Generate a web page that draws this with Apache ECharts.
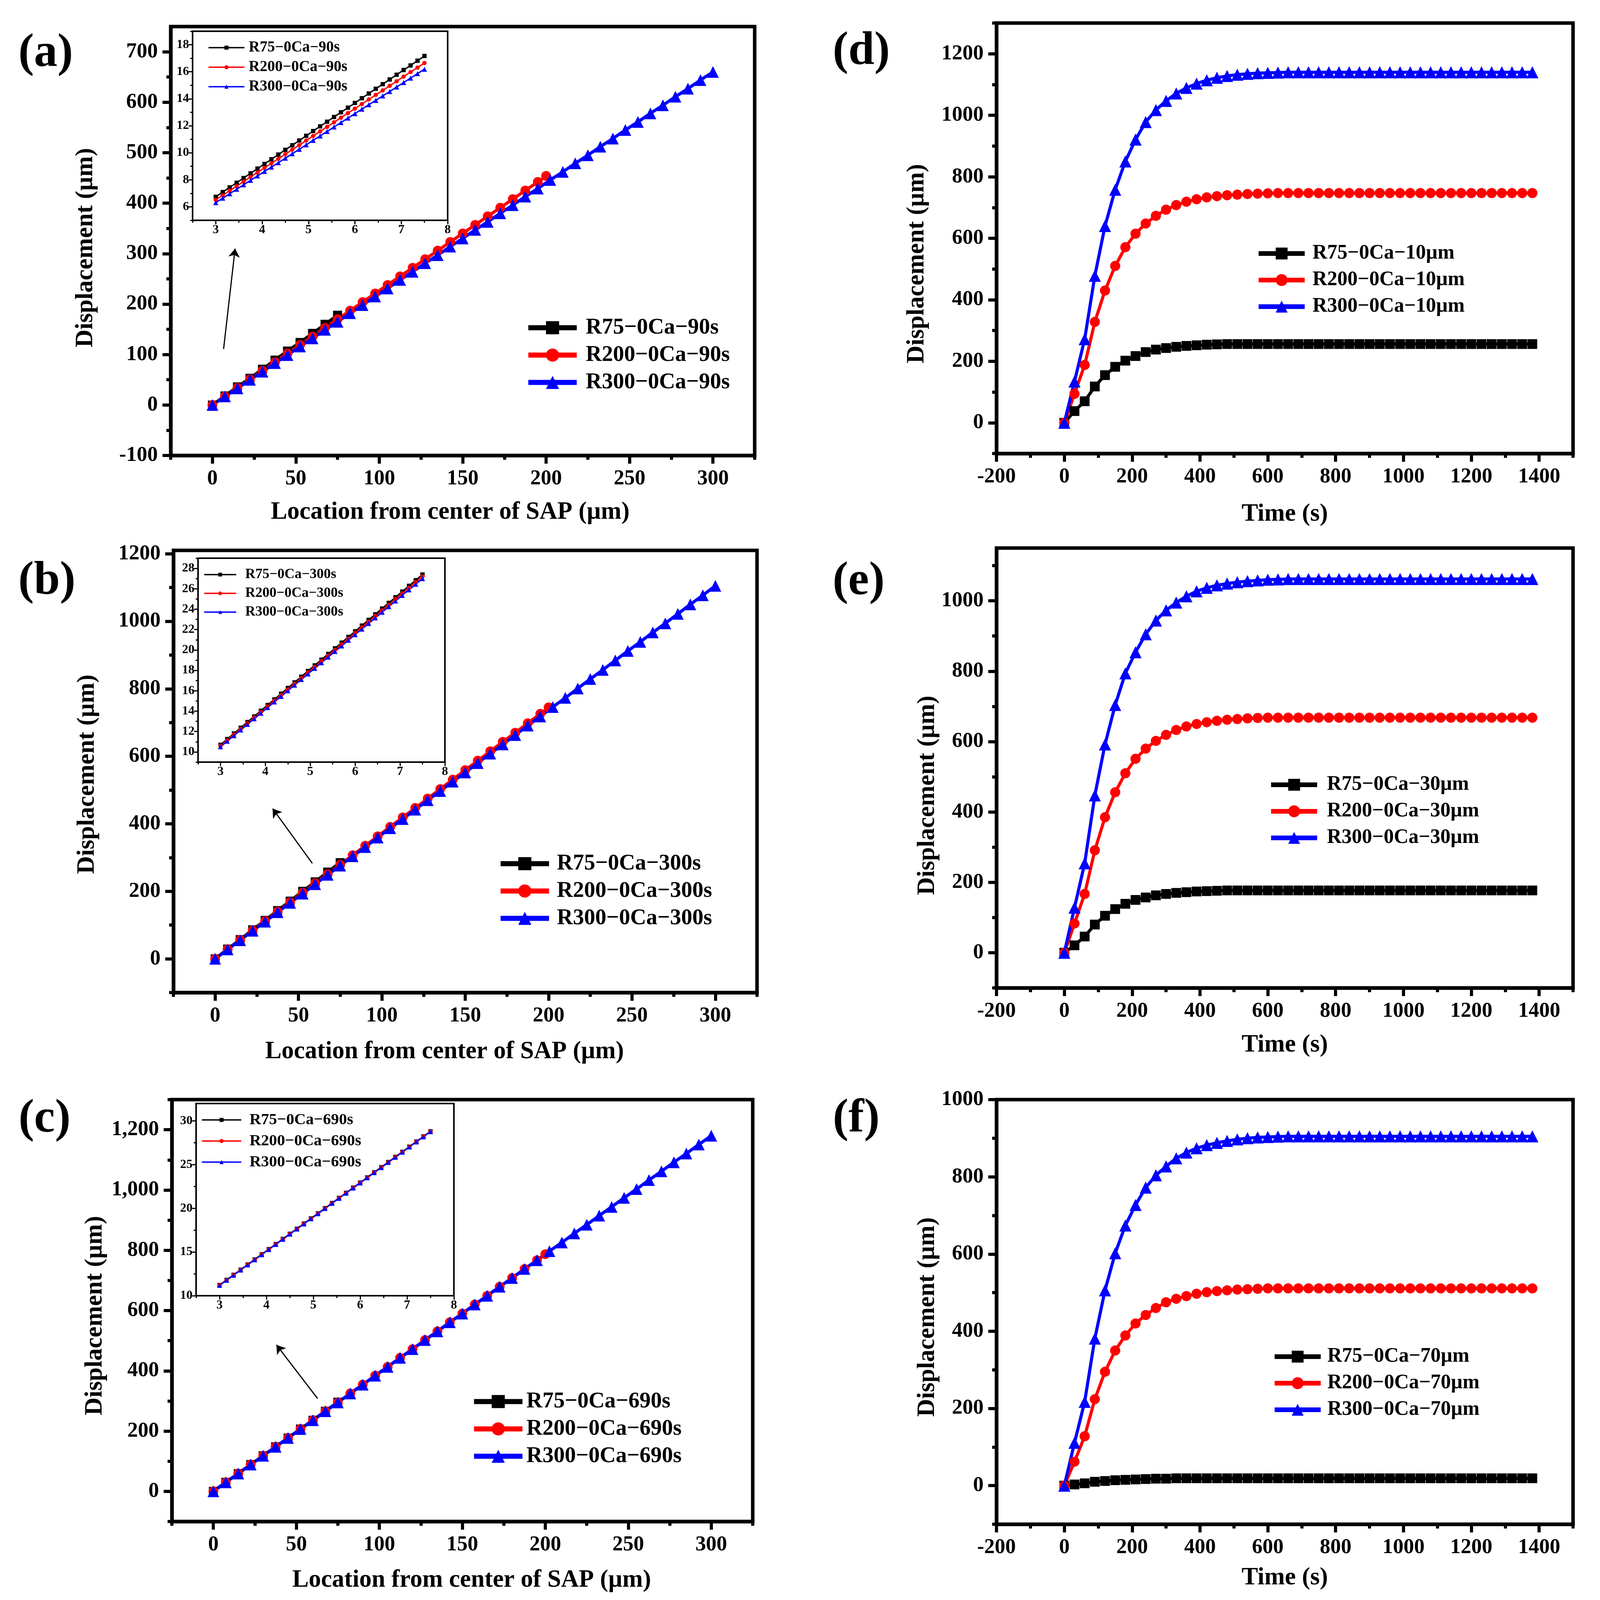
<!DOCTYPE html>
<html><head><meta charset="utf-8">
<script src="https://cdn.jsdelivr.net/npm/echarts@6/dist/echarts.min.js"></script>
<style>html,body{margin:0;padding:0;background:#fff}#c{width:4104px;height:4141px}</style>
</head><body><div id="c"></div>
<script>
// ---------------- DATA ----------------
const locR75 = [0,7.5,15,22.5,30,37.5,45,52.5,60,67.5,75];
const locR200 = [0,7.5,15,22.5,30,37.5,45,52.5,60,67.5,75,82.5,90,97.5,105,112.5,120,127.5,135,142.5,150,157.5,165,172.5,180,187.5,195,200];
const locR300 = [0,7.5,15,22.5,30,37.5,45,52.5,60,67.5,75,82.5,90,97.5,105,112.5,120,127.5,135,142.5,150,157.5,165,172.5,180,187.5,195,202.5,210,217.5,225,232.5,240,247.5,255,262.5,270,277.5,285,292.5,300];
const insetLoc = [3,3.15,3.3,3.45,3.6,3.75,3.9,4.05,4.2,4.35,4.5,4.65,4.8,4.95,5.1,5.25,5.4,5.55,5.7,5.85,6,6.15,6.3,6.45,6.6,6.75,6.9,7.05,7.2,7.35,7.5];
const timeS = [0,30,60,90,120,150,180,210,240,270,300,330,360,390,420,450,480,510,540,570,600,630,660,690,720,750,780,810,840,870,900,930,960,990,1020,1050,1080,1110,1140,1170,1200,1230,1260,1290,1320,1350,1380];

// (a) 90 s
const a_R75 = [0,18,36,53,71,89,107,124,142,160,178];
const a_R200 = [0,17,34,51,68,85,102,119,136,153,170,187,204,221,238,255,272,289,306,323,340,357,374,391,408,425,442,454];
const a_R300 = [0,17,33,50,66,83,99,116,132,149,165,182,198,215,231,248,264,281,297,314,330,347,363,380,396,413,429,446,462,479,495,512,528,545,561,578,594,611,627,644,660];
const ia_R75 = [6.74,7.09,7.44,7.78,8.13,8.48,8.83,9.17,9.52,9.87,10.22,10.56,10.91,11.26,11.61,11.96,12.30,12.65,13.00,13.34,13.69,14.04,14.39,14.74,15.08,15.43,15.78,16.13,16.47,16.82,17.17];
const ia_R200 = [6.52,6.86,7.20,7.53,7.87,8.21,8.55,8.88,9.22,9.56,9.90,10.23,10.57,10.91,11.25,11.59,11.92,12.26,12.60,12.94,13.27,13.61,13.95,14.29,14.62,14.96,15.30,15.64,15.98,16.31,16.65];
const ia_R300 = [6.31,6.64,6.97,7.30,7.63,7.96,8.29,8.62,8.94,9.27,9.60,9.93,10.26,10.59,10.92,11.25,11.58,11.91,12.24,12.57,12.90,13.23,13.56,13.88,14.21,14.54,14.87,15.20,15.53,15.86,16.19];

// (b) 300 s
const b_R75 = [0,29,57,86,114,143,171,200,228,257,285];
const b_R200 = [0,28,56,84,112,140,168,196,224,251,279,307,335,363,391,419,447,475,503,531,559,587,615,643,670,698,726,745];
const b_R300 = [0,28,55,83,110,138,166,193,221,249,276,304,331,359,387,414,442,470,497,525,552,580,608,635,663,691,718,746,773,801,829,856,884,912,939,967,994,1022,1050,1077,1105];
const ib_R75 = [10.70,11.26,11.81,12.37,12.93,13.48,14.04,14.60,15.15,15.71,16.27,16.82,17.38,17.94,18.49,19.05,19.61,20.16,20.72,21.28,21.83,22.39,22.95,23.50,24.06,24.62,25.17,25.73,26.29,26.84,27.40];
const ib_R200 = [10.60,11.15,11.71,12.26,12.81,13.37,13.92,14.47,15.03,15.58,16.13,16.69,17.24,17.79,18.35,18.90,19.45,20.01,20.56,21.11,21.67,22.22,22.77,23.33,23.88,24.43,24.99,25.54,26.09,26.65,27.20];
const ib_R300 = [10.50,11.05,11.60,12.15,12.70,13.25,13.80,14.35,14.90,15.45,16.00,16.55,17.10,17.65,18.20,18.75,19.30,19.85,20.40,20.95,21.50,22.05,22.60,23.15,23.70,24.25,24.80,25.35,25.90,26.45,27.00];

// (c) 690 s
const c_R75 = [0,30,59,89,118,148,177,207,236,266,296];
const c_R200 = [0,30,59,89,118,148,177,207,236,266,295,325,354,384,413,443,472,502,531,561,590,620,649,679,708,738,767,787];
const c_R300 = [0,30,59,89,118,148,177,207,236,266,295,325,354,384,413,443,472,502,531,561,590,620,649,679,708,738,767,797,826,856,885,915,944,974,1003,1033,1062,1092,1121,1151,1180];
const ic_R75 = [11.22,11.81,12.39,12.98,13.57,14.15,14.74,15.33,15.91,16.50,17.09,17.67,18.26,18.85,19.43,20.02,20.61,21.19,21.78,22.37,22.95,23.54,24.13,24.71,25.30,25.89,26.47,27.06,27.65,28.23,28.82];
const ic_R200 = [11.20,11.79,12.37,12.96,13.55,14.13,14.72,15.31,15.89,16.48,17.07,17.65,18.24,18.83,19.41,20.00,20.59,21.17,21.76,22.35,22.93,23.52,24.11,24.69,25.28,25.87,26.45,27.04,27.63,28.21,28.80];
const ic_R300 = [11.18,11.77,12.35,12.94,13.53,14.11,14.70,15.29,15.87,16.46,17.05,17.63,18.22,18.81,19.39,19.98,20.57,21.15,21.74,22.33,22.91,23.50,24.09,24.67,25.26,25.85,26.43,27.02,27.61,28.19,28.78];

// (d) 10 um
const d_R75 = [0,38,70,118,155,182,202,217,230,238,
  243,247,250,252,254,255,256,256,256,256,
  256,256,256,256,256,256,256,256,256,256,
  256,256,256,256,256,256,256,256,256,256,
  256,256,256,256,256,256,256];
const d_R200 = [0,94,188,328,430,510,571,615,648,673,
  693,708,719,727,733,737,740,742,744,745,
  746,747,747,747,747,747,747,747,747,747,
  747,747,747,747,747,747,747,747,747,747,
  747,747,747,747,747,747,747];
const d_R300 = [0,134,272,478,640,758,850,921,978,1017,
  1047,1071,1089,1103,1114,1122,1128,1132,1135,1137,
  1138,1139,1140,1140,1140,1140,1140,1140,1140,1140,
  1140,1140,1140,1140,1140,1140,1140,1140,1140,1140,
  1140,1140,1140,1140,1140,1140,1140];
// (e) 30 um
const e_R75 = [0,21,46,80,105,124,139,150,157,163,
  167,170,172,174,175,176,177,177,177,177,
  177,177,177,177,177,177,177,177,177,177,
  177,177,177,177,177,177,177,177,177,177,
  177,177,177,177,177,177,177];
const e_R200 = [0,83,167,291,385,456,510,551,580,602,
  619,633,643,650,655,659,662,664,666,667,
  668,668,668,668,668,668,668,668,668,668,
  668,668,668,668,668,668,668,668,668,668,
  668,668,668,668,668,668,668];
const e_R300 = [0,128,254,447,592,704,794,854,905,944,
  973,995,1013,1027,1037,1044,1049,1053,1056,1058,
  1060,1061,1062,1062,1062,1062,1062,1062,1062,1062,
  1062,1062,1062,1062,1062,1062,1062,1062,1062,1062,
  1062,1062,1062,1062,1062,1062,1062];
// (f) 70 um
const f_R75 = [0,3,6,10,12,14,15,16,17,18,
  18,19,19,19,19,19,19,19,19,19,
  19,19,19,19,19,19,19,19,19,19,
  19,19,19,19,19,19,19,19,19,19,
  19,19,19,19,19,19,19];
const f_R200 = [0,62,128,224,295,350,389,420,442,460,
  475,484,491,497,501,504,506,508,509,510,
  511,511,511,511,511,511,511,511,511,511,
  511,511,511,511,511,511,511,511,511,511,
  511,511,511,511,511,511,511];
const f_R300 = [0,111,217,381,506,602,674,727,772,804,
  827,848,863,874,882,888,893,897,900,902,
  903,904,905,905,905,905,905,905,905,905,
  905,905,905,905,905,905,905,905,905,905,
  905,905,905,905,905,905,905];

// tick values
const locMajor = [0,50,100,150,200,250,300];
const locMinor = [-25,25,75,125,175,225,275,325];
const timeMajor = [-200,0,200,400,600,800,1000,1200,1400];
const timeMinor = [-100,100,300,500,700,900,1100,1300,1500];
const insetXMajor = [3,4,5,6,7,8];
const insetXMinor = [2.5,3.5,4.5,5.5,6.5,7.5];

// ---------------- BUILD ----------------
const S = 0.988;                       // layout scale
const P = v => Math.round(v * S);
const FONT = '"Liberation Serif", "Times New Roman", serif';
const BLACK = '#000000', RED = '#ff0000', BLUE = '#0000ff';
const grid = [], xAxis = [], yAxis = [], series = [], legend = [], graphic = [];
const plain = v => String(v);
const comma = v => String(v).replace(/\B(?=(\d{3})+(?!\d))/g, ',');
const zip = (xs, ys) => xs.map((x, i) => [x, ys[i]]);

function addCoord(box, s) {
  const gi = grid.length;
  const b = box.map(P);
  grid.push({left: b[0], top: b[1], width: b[2] - b[0], height: b[3] - b[1],
    show: true, borderColor: '#000', borderWidth: s.frame, backgroundColor: 'transparent', containLabel: false});
  const xi = xAxis.length, yi = yAxis.length;
  const nameStyle = (pad) => ({fontSize: s.nameSize || 63, fontFamily: FONT, fontWeight: 'bold', color: '#000', padding: pad || 0});
  const labStyle = {show: true, margin: s.margin, fontSize: s.lab, fontFamily: FONT, fontWeight: 'bold', color: '#000'};
  xAxis.push({type: 'value', gridIndex: gi, position: 'bottom', min: s.x.min, max: s.x.max,
    splitLine: {show: false},
    axisLine: {show: true, onZero: false, lineStyle: {color: '#000', width: s.frame}},
    axisTick: {show: true, customValues: s.x.major, length: s.tickMaj, lineStyle: {color: '#000', width: s.tickW}},
    axisLabel: Object.assign({customValues: s.x.major, formatter: s.x.fmt || plain}, labStyle),
    name: s.x.name || '', nameLocation: 'middle', nameGap: P(s.x.gap || 0), nameTextStyle: nameStyle(s.x.pad)});
  xAxis.push({type: 'value', gridIndex: gi, position: 'bottom', min: s.x.min, max: s.x.max,
    splitLine: {show: false}, axisLine: {show: false, onZero: false},
    axisTick: {show: true, customValues: s.x.minor, length: s.tickMin, lineStyle: {color: '#000', width: s.tickW}},
    axisLabel: {show: false}});
  yAxis.push({type: 'value', gridIndex: gi, position: 'left', min: s.y.min, max: s.y.max,
    splitLine: {show: false},
    axisLine: {show: true, onZero: false, lineStyle: {color: '#000', width: s.frame}},
    axisTick: {show: true, customValues: s.y.major, length: s.tickMaj, lineStyle: {color: '#000', width: s.tickW}},
    axisLabel: Object.assign({customValues: s.y.major, formatter: s.y.fmt || plain}, labStyle),
    name: s.y.name || '', nameLocation: 'middle', nameGap: P(s.y.gap || 0), nameTextStyle: nameStyle(s.y.pad)});
  yAxis.push({type: 'value', gridIndex: gi, position: 'left', min: s.y.min, max: s.y.max,
    splitLine: {show: false}, axisLine: {show: false, onZero: false},
    axisTick: {show: true, customValues: s.y.minor, length: s.tickMin, lineStyle: {color: '#000', width: s.tickW}},
    axisLabel: {show: false}});
  return {xi, yi};
}

function addLine(ax, name, xs, ys, color, symbol, size, lw, extra) {
  series.push(Object.assign({type: 'line', name, xAxisIndex: ax.xi, yAxisIndex: ax.yi,
    data: zip(xs, ys), symbol, symbolSize: size, showSymbol: true, showAllSymbol: true,
    lineStyle: {color, width: lw}, itemStyle: {color, borderWidth: 0},
    emphasis: {disabled: true}, animation: false, z: 3}, extra || {}));
}

function addLegend(names, o) {
  legend.push({data: names, orient: 'vertical', left: P(o.left), top: P(o.top), padding: 0,
    itemWidth: o.w, itemHeight: o.h, itemGap: o.gap, selectedMode: false,
    lineStyle: {width: o.lw},
    textStyle: {fontFamily: FONT, fontWeight: 'bold', fontSize: o.fs, lineHeight: o.lh, color: '#000', padding: [0, 0, 0, o.pad]}});
}

function arrow(p0, p1) {
  return {markLine: {silent: true, symbol: ['none', 'arrow'], symbolSize: 22, animation: false,
    lineStyle: {color: '#000', width: 3, type: 'solid'}, label: {show: false}, emphasis: {disabled: true},
    data: [[{coord: p0}, {coord: p1}]]}};
}

const mainStyle = {frame: 9, tickMaj: 21, tickMin: 11, tickW: 8, lab: 54, margin: 33, nameSize: 63};
const insetStyle = {frame: 4, tickMaj: 10, tickMin: 6, tickW: 3, lab: 32, margin: 9};
const locName = 'Location from center of SAP (µm)';
const dispName = 'Displacement (µm)';
const mainLeg = {w: 124, h: 42, gap: 12, lw: 13, fs: 57, lh: 58};
const timeLeg = {w: 118, h: 38, gap: 14, lw: 12, fs: 52, lh: 54};

// ---------- panel (a)
{
  const ax = addCoord([442, 69, 1955, 1180], Object.assign({}, mainStyle, {
    x: {min: -25, max: 325, major: locMajor, minor: locMinor, name: locName, gap: 115, pad: [0, 64, 0, 0]},
    y: {min: -100, max: 750, major: [-100,0,100,200,300,400,500,600,700], minor: [-50,50,150,250,350,450,550,650], name: dispName, gap: 188, pad: [0, 34, 0, 0]}}));
  const n = ['R75−0Ca−90s', 'R200−0Ca−90s', 'R300−0Ca−90s'];
  addLine(ax, n[0], locR75, a_R75, BLACK, 'rect', 23, 8);
  addLine(ax, n[1], locR200, a_R200, RED, 'circle', 25, 8);
  addLine(ax, n[2], locR300, a_R300, BLUE, 'triangle', 30, 8, arrow([6.7, 111], [13.6, 310]));
  addLegend(n, Object.assign({}, mainLeg, {left: 1362, top: 820, pad: 18}));
  const ins = addCoord([499, 81, 1160, 571], Object.assign({}, insetStyle, {
    x: {min: 2.5, max: 8, major: insetXMajor, minor: insetXMinor},
    y: {min: 5, max: 19, major: [6,8,10,12,14,16,18], minor: [5,7,9,11,13,15,17,19]}}));
  addLine(ins, n[0], insetLoc, ia_R75, BLACK, 'rect', 11, 3.5);
  addLine(ins, n[1], insetLoc, ia_R200, RED, 'circle', 11, 3.5);
  addLine(ins, n[2], insetLoc, ia_R300, BLUE, 'triangle', 13, 3.5);
  addLegend(n, {left: 538, top: 103, w: 92, h: 13, gap: 10, lw: 3.5, fs: 39, lh: 40, pad: 6});
}
// ---------- panel (b)
{
  const ax = addCoord([449, 1426, 1962, 2572], Object.assign({}, mainStyle, {
    x: {min: -25, max: 325, major: locMajor, minor: locMinor, name: locName, gap: 121, pad: [0, 106, 0, 0]},
    y: {min: -100, max: 1210, major: [0,200,400,600,800,1000,1200], minor: [-100,100,300,500,700,900,1100], name: dispName, gap: 191, pad: [0, 14, 0, 0]}}));
  const n = ['R75−0Ca−300s', 'R200−0Ca−300s', 'R300−0Ca−300s'];
  addLine(ax, n[0], locR75, b_R75, BLACK, 'rect', 23, 8);
  addLine(ax, n[1], locR200, b_R200, RED, 'circle', 25, 8);
  addLine(ax, n[2], locR300, b_R300, BLUE, 'triangle', 30, 8, arrow([58.3, 283], [34.5, 445]));
  addLegend(n, Object.assign({}, mainLeg, {left: 1290, top: 2209, pad: 15}));
  const ins = addCoord([513, 1446, 1153, 1975], Object.assign({}, insetStyle, {
    x: {min: 2.5, max: 8, major: insetXMajor, minor: insetXMinor},
    y: {min: 9, max: 29, major: [10,12,14,16,18,20,22,24,26,28], minor: [9,11,13,15,17,19,21,23,25,27,29]}}));
  addLine(ins, n[0], insetLoc, ib_R75, BLACK, 'rect', 11, 3.5);
  addLine(ins, n[1], insetLoc, ib_R200, RED, 'circle', 11, 3.5);
  addLine(ins, n[2], insetLoc, ib_R300, BLUE, 'triangle', 13, 3.5);
  addLegend(n, {left: 527, top: 1470, w: 82, h: 12, gap: 10, lw: 3.5, fs: 36, lh: 38, pad: 18});
}
// ---------- panel (c)
{
  const ax = addCoord([445, 2849, 1950, 3942], Object.assign({}, mainStyle, {
    x: {min: -25, max: 325, major: locMajor, minor: locMinor, name: locName, gap: 120, pad: [0, 0, 0, 48]},
    y: {min: -100, max: 1300, major: [0,200,400,600,800,1000,1200], minor: [-100,100,300,500,700,900,1100,1300], name: dispName, gap: 167, fmt: comma, pad: [0, 26, 0, 0]}}));
  const n = ['R75−0Ca−690s', 'R200−0Ca−690s', 'R300−0Ca−690s'];
  addLine(ax, n[0], locR75, c_R75, BLACK, 'rect', 23, 8);
  addLine(ax, n[1], locR200, c_R200, RED, 'circle', 25, 8);
  addLine(ax, n[2], locR300, c_R300, BLUE, 'triangle', 30, 8, arrow([62.8, 308], [38, 486]));
  addLegend(n, Object.assign({}, mainLeg, {left: 1222, top: 3602, pad: 5}));
  const ins = addCoord([508, 2859, 1176, 3357], Object.assign({}, insetStyle, {
    x: {min: 2.5, max: 8, major: insetXMajor, minor: insetXMinor},
    y: {min: 10, max: 32, major: [10,15,20,25,30], minor: [12.5,17.5,22.5,27.5]}}));
  addLine(ins, n[0], insetLoc, ic_R75, BLACK, 'rect', 11, 3.5);
  addLine(ins, n[1], insetLoc, ic_R200, RED, 'circle', 11, 3.5);
  addLine(ins, n[2], insetLoc, ic_R300, BLUE, 'triangle', 13, 3.5);
  addLegend(n, {left: 521, top: 2881, w: 101, h: 13, gap: 12, lw: 3.5, fs: 41, lh: 42, pad: 16});
}
// ---------- panels (d)(e)(f)
function timePanel(box, ymax, yMajor, yMinor, ygap, ypad, xgap, n, s75, s200, s300, lg) {
  const ax = addCoord(box, Object.assign({}, mainStyle, {
    x: {min: -200, max: 1500, major: timeMajor, minor: timeMinor, name: 'Time (s)', gap: xgap},
    y: {min: -100, max: ymax, major: yMajor, minor: yMinor, name: dispName, gap: ygap, pad: [0, ypad, 0, 0]}}));
  addLine(ax, n[0], timeS, s75, BLACK, 'rect', 25, 8);
  addLine(ax, n[1], timeS, s200, RED, 'circle', 26, 8);
  addLine(ax, n[2], timeS, s300, BLUE, 'triangle', 31, 8);
  addLegend(n, Object.assign({}, timeLeg, lg));
}
timePanel([2582, 60, 4076, 1175], 1300, [0,200,400,600,800,1000,1200], [-100,100,300,500,700,900,1100,1300], 174, 130, 125,
  ['R75−0Ca−10µm', 'R200−0Ca−10µm', 'R300−0Ca−10µm'], d_R75, d_R200, d_R300, {left: 3255, top: 630, pad: 15});
timePanel([2582, 1420, 4076, 2560], 1150, [0,200,400,600,800,1000], [-100,100,300,500,700,900,1100], 141, 140, 116,
  ['R75−0Ca−30µm', 'R200−0Ca−30µm', 'R300−0Ca−30µm'], e_R75, e_R200, e_R300, {left: 3287, top: 2006, pad: 20});
timePanel([2582, 2849, 4076, 3949], 1000, [0,200,400,600,800,1000], [-100,100,300,500,700,900], 141, 26, 107,
  ['R75−0Ca−70µm', 'R200−0Ca−70µm', 'R300−0Ca−70µm'], f_R75, f_R200, f_R300, {left: 3297, top: 3488, pad: 12});

// panel letters
[['(a)', 118, 140], ['(b)', 121, 1507], ['(c)', 115, 2901], ['(d)', 2232, 135], ['(e)', 2225, 1508], ['(f)', 2219, 2900]]
  .forEach(([t, x, y]) => graphic.push({type: 'text', x: P(x), y: P(y), z: 10,
    style: {text: t, font: 'bold 120px "Liberation Serif", serif', fill: '#000', align: 'center', verticalAlign: 'middle'}}));

const chart = echarts.init(document.getElementById('c'), null, {renderer: 'canvas', width: 4104, height: 4141});
chart.setOption({backgroundColor: '#ffffff', animation: false, grid, xAxis, yAxis, series, legend, graphic});
</script></body></html>
